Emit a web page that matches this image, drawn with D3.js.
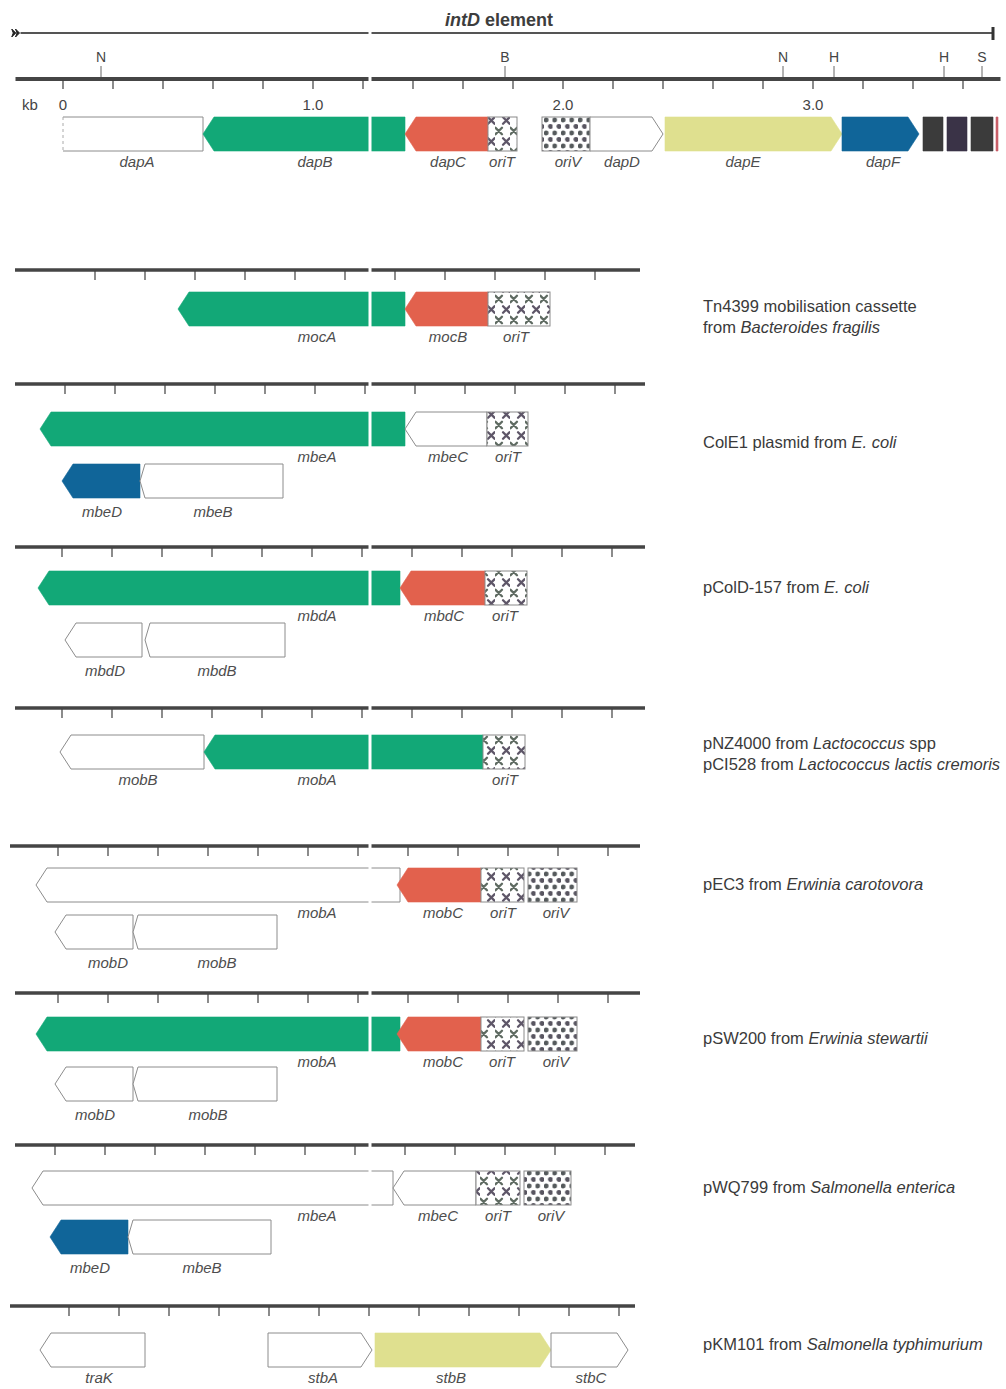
<!DOCTYPE html>
<html><head><meta charset="utf-8">
<script src="https://cdn.jsdelivr.net/npm/d3@7"></script>
<style>
body{margin:0;background:#fff;}
svg{display:block;}
text{font-family:"Liberation Sans",Arial,sans-serif;}
</style>
</head><body>
<svg id="chart" width="1006" height="1389"></svg>
<script>
// ---------------- DATA (kb coordinates) ----------------
const trackIds = ["intD","Tn4399","ColE1","pColD-157","pNZ4000","pEC3","pSW200","pWQ799","pKM101"];
const trackDescriptions = [
  [],
  [[{t:"Tn4399 mobilisation cassette"}],[{t:"from "},{t:"Bacteroides fragilis",i:true}]],
  [[{t:"ColE1 plasmid from "},{t:"E. coli",i:true}]],
  [[{t:"pColD-157 from "},{t:"E. coli",i:true}]],
  [[{t:"pNZ4000 from "},{t:"Lactococcus",i:true},{t:" spp"}],[{t:"pCI528 from "},{t:"Lactococcus lactis cremoris",i:true}]],
  [[{t:"pEC3 from "},{t:"Erwinia carotovora",i:true}]],
  [[{t:"pSW200  from "},{t:"Erwinia stewartii",i:true}]],
  [[{t:"pWQ799  from "},{t:"Salmonella enterica",i:true}]],
  [[{t:"pKM101 from "},{t:"Salmonella typhimurium",i:true}]]
];
const rulerStartKb = [-0.19,-0.192,-0.192,-0.192,-0.192,-0.212,-0.192,-0.192,-0.212];
const rulerEndKb   = [3.75, 2.308, 2.328, 2.328, 2.328, 2.308, 2.308, 2.288, 2.288];
const tickStartKb  = [0, 0.128, 0.008, -0.004, -0.004, -0.02, -0.02, -0.032, 0.024];
const tickCount    = [19, 11, 12, 12, 12, 12, 12, 12, 12];
const tickStepKb = 0.2;
const axisTickLabels = ["0","1.0","2.0","3.0"];
const axisTickKb = [0,1,2,3];
const siteNames = ["N","B","N","H","H","S"];
const siteKb = [0.152,1.768,2.88,3.084,3.524,3.676];
const elementTitle = ["intD"," element"];
const breakKb = 1.228;

const genesIntD = [
  {name:"dapA",from:0,to:0.56,dir:0,fam:"none",open:"left",lab:0.296},
  {name:"dapB",from:0.56,to:1.368,dir:-1,fam:"dapB",lab:1.008},
  {name:"dapC",from:1.368,to:1.70,dir:-1,fam:"dapC",lab:1.54},
  {name:"oriT",from:1.70,to:1.816,kind:"oriT",lab:1.756},
  {name:"oriV",from:1.916,to:2.108,kind:"oriV",lab:2.02},
  {name:"dapD",from:2.108,to:2.40,dir:1,fam:"none",lab:2.236},
  {name:"dapE",from:2.408,to:3.116,dir:1,fam:"dapE",lab:2.72},
  {name:"dapF",from:3.116,to:3.424,dir:1,fam:"dapF",lab:3.28},
  {name:"",from:3.44,to:3.52,dir:0,fam:"dark"},
  {name:"",from:3.536,to:3.616,dir:0,fam:"dark2"},
  {name:"",from:3.632,to:3.72,dir:0,fam:"dark"},
  {name:"",from:3.732,to:3.74,dir:0,fam:"redline"}
];
const genesTn4399 = [
  {name:"mocA",from:0.46,to:1.368,dir:-1,fam:"dapB",lab:1.016},
  {name:"mocB",from:1.368,to:1.70,dir:-1,fam:"dapC",lab:1.54},
  {name:"oriT",from:1.70,to:1.948,kind:"oriT",lab:1.812}
];
const genesColE1 = [
  {name:"mbeA",from:-0.092,to:1.368,dir:-1,fam:"dapB",lab:1.016},
  {name:"mbeC",from:1.368,to:1.696,dir:-1,fam:"none",lab:1.54},
  {name:"oriT",from:1.696,to:1.86,kind:"oriT",lab:1.78},
  {name:"mbeD",from:-0.004,to:0.308,dir:-1,fam:"dapF",row:1,lab:0.156},
  {name:"mbeB",from:0.308,to:0.88,dir:-1,fam:"none",row:1,short:true,lab:0.6}
];
const genesPColD = [
  {name:"mbdA",from:-0.1,to:1.348,dir:-1,fam:"dapB",lab:1.016},
  {name:"mbdC",from:1.348,to:1.688,dir:-1,fam:"dapC",lab:1.524},
  {name:"oriT",from:1.688,to:1.856,kind:"oriT",lab:1.768},
  {name:"mbdD",from:0.008,to:0.316,dir:-1,fam:"none",row:1,lab:0.168},
  {name:"mbdB",from:0.328,to:0.888,dir:-1,fam:"none",row:1,short:true,lab:0.616}
];
const genesPNZ4000 = [
  {name:"mobB",from:-0.012,to:0.564,dir:-1,fam:"none",lab:0.3},
  {name:"mobA",from:0.564,to:1.68,dir:-1,fam:"dapB",lab:1.016},
  {name:"oriT",from:1.68,to:1.848,kind:"oriT",lab:1.768}
];
const genesPEC3 = [
  {name:"mobA",from:-0.108,to:1.348,dir:-1,fam:"none",lab:1.016},
  {name:"mobC",from:1.336,to:1.672,dir:-1,fam:"dapC",lab:1.52},
  {name:"oriT",from:1.672,to:1.844,kind:"oriT",lab:1.76},
  {name:"oriV",from:1.86,to:2.056,kind:"oriV",lab:1.972},
  {name:"mobD",from:-0.032,to:0.28,dir:-1,fam:"none",row:1,lab:0.18},
  {name:"mobB",from:0.28,to:0.856,dir:-1,fam:"none",row:1,short:true,lab:0.616}
];
const genesPSW200 = [
  {name:"mobA",from:-0.108,to:1.348,dir:-1,fam:"dapB",lab:1.016},
  {name:"mobC",from:1.336,to:1.672,dir:-1,fam:"dapC",lab:1.52},
  {name:"oriT",from:1.672,to:1.844,kind:"oriT",lab:1.756},
  {name:"oriV",from:1.86,to:2.056,kind:"oriV",lab:1.972},
  {name:"mobD",from:-0.032,to:0.28,dir:-1,fam:"none",row:1,lab:0.128},
  {name:"mobB",from:0.28,to:0.856,dir:-1,fam:"none",row:1,short:true,lab:0.58}
];
const genesPWQ799 = [
  {name:"mbeA",from:-0.124,to:1.32,dir:-1,fam:"none",lab:1.016},
  {name:"mbeC",from:1.32,to:1.652,dir:-1,fam:"none",lab:1.5},
  {name:"oriT",from:1.652,to:1.828,kind:"oriT",lab:1.74},
  {name:"oriV",from:1.844,to:2.032,kind:"oriV",lab:1.952},
  {name:"mbeD",from:-0.052,to:0.26,dir:-1,fam:"dapF",row:1,lab:0.108},
  {name:"mbeB",from:0.26,to:0.832,dir:-1,fam:"none",row:1,short:true,lab:0.556}
];
const genesPKM101 = [
  {name:"traK",from:-0.092,to:0.328,dir:-1,fam:"none",lab:0.144},
  {name:"stbA",from:0.82,to:1.236,dir:1,fam:"none",lab:1.04},
  {name:"stbB",from:1.248,to:1.952,dir:1,fam:"dapE",lab:1.552},
  {name:"stbC",from:1.952,to:2.26,dir:1,fam:"none",lab:2.112}
];
const trackGenes = [genesIntD,genesTn4399,genesColE1,genesPColD,genesPNZ4000,genesPEC3,genesPSW200,genesPWQ799,genesPKM101];

// ---------------- LAYOUT / STYLE ----------------
const rulerY  = [79,270,384,547,708,846,993,1145,1306];
const row0Top = [117,292,412,571,735,868,1017,1171,1333];
const row1Top = [null,null,464,623,null,915,1067,1220,null];
const descY   = [[],[307,328],[443],[588],[744,765],[885],[1039],[1188],[1345]];
const breakTracks = [true,true,true,true,true,true,true,true,false];
const geneH = 34, headLen = 11, shortHead = 5;
const famFill = {none:"#ffffff",dapB:"#12a877",dapC:"#e2614d",dapF:"#106599",dapE:"#dfe08f",
                 dark:"#3b3b3b",dark2:"#3a3347",redline:"#c9606a"};

const x = d3.scaleLinear().domain([0,1]).range([63,313]);
const svg = d3.select("#chart");
const defs = svg.append("defs");

// oriT cross pattern
const pT = defs.append("pattern").attr("id","crossPat").attr("patternUnits","userSpaceOnUse")
  .attr("width",15).attr("height",21);
pT.append("rect").attr("width",15).attr("height",21).attr("fill","#fff");
[[3.75,5,"#5f6b62"],[11.25,15.5,"#5e5668"]].forEach(([cx,cy,c])=>{
  pT.append("path").attr("d",`M${cx-3.2},${cy-3.2}L${cx+3.2},${cy+3.2}M${cx+3.2},${cy-3.2}L${cx-3.2},${cy+3.2}`)
    .attr("stroke",c).attr("stroke-width",2.3).attr("stroke-linecap","round");
});
// oriV dot pattern
const pV = defs.append("pattern").attr("id","dotPat").attr("patternUnits","userSpaceOnUse")
  .attr("width",8.5).attr("height",13);
pV.append("rect").attr("width",8.5).attr("height",13).attr("fill","#fff");
pV.append("circle").attr("cx",2.2).attr("cy",3).attr("r",2.4).attr("fill","#555a5c");
pV.append("circle").attr("cx",6.45).attr("cy",9.5).attr("r",2.4).attr("fill","#585560");

function genePath(x0,x1,y,h,dir,head){
  if(dir===-1) return `M${x0},${y+h/2}L${x0+head},${y}L${x1},${y}L${x1},${y+h}L${x0+head},${y+h}Z`;
  if(dir===1) return `M${x0},${y}L${x1-head},${y}L${x1},${y+h/2}L${x1-head},${y+h}L${x0},${y+h}Z`;
  return `M${x0},${y}L${x1},${y}L${x1},${y+h}L${x0},${y+h}Z`;
}

// ---------------- TITLE + intD element line ----------------
const title = svg.append("text").attr("x",499).attr("y",26).attr("text-anchor","middle")
  .attr("font-size",18).attr("font-weight","bold").attr("fill","#3d3d3d");
title.append("tspan").attr("font-style","italic").text(elementTitle[0]);
title.append("tspan").text(elementTitle[1]);

const topLineY = 33;
svg.append("line").attr("x1",x(-0.17)).attr("x2",x(3.72)).attr("y1",topLineY).attr("y2",topLineY)
  .attr("stroke","#555").attr("stroke-width",2);
// left end chevrons
[-0.205,-0.19].forEach(k=>{
  const cx = x(k);
  svg.append("path").attr("d",`M${cx},${topLineY-4}L${cx+4},${topLineY}L${cx},${topLineY+4}L${cx+1.5},${topLineY}Z`)
    .attr("fill","#222").attr("stroke","#222").attr("stroke-width",1);
});
// right end bar
svg.append("line").attr("x1",x(3.72)).attr("x2",x(3.72)).attr("y1",topLineY-6).attr("y2",topLineY+7)
  .attr("stroke","#333").attr("stroke-width",3);

// restriction sites
const sites = svg.append("g");
siteKb.forEach((k,i)=>{
  sites.append("line").attr("x1",x(k)).attr("x2",x(k)).attr("y1",66).attr("y2",rulerY[0]-2)
    .attr("stroke","#666").attr("stroke-width",1);
  sites.append("text").attr("x",x(k)).attr("y",62).attr("text-anchor","middle")
    .attr("font-size",14).attr("fill","#444").text(siteNames[i]);
});

// kb axis labels
svg.append("text").attr("x",30).attr("y",110).attr("text-anchor","middle").attr("font-size",15)
  .attr("fill","#444").text("kb");
axisTickKb.forEach((k,i)=>{
  svg.append("text").attr("x",x(k)).attr("y",110).attr("text-anchor","middle").attr("font-size",15)
    .attr("fill","#444").text(axisTickLabels[i]);
});

// ---------------- TRACKS ----------------
trackIds.forEach((id,t)=>{
  const g = svg.append("g").attr("class","track").attr("data-id",id);
  const ry = rulerY[t];
  // ruler
  g.append("line").attr("x1",x(rulerStartKb[t])).attr("x2",x(rulerEndKb[t]))
    .attr("y1",ry).attr("y2",ry).attr("stroke","#454545").attr("stroke-width",t===0?4:3.5);
  const ticks = d3.range(tickCount[t]).map(i=>tickStartKb[t]+i*tickStepKb);
  g.selectAll("line.tick").data(ticks).join("line").attr("class","tick")
    .attr("x1",d=>x(d)).attr("x2",d=>x(d)).attr("y1",ry+1).attr("y2",ry+10)
    .attr("stroke","#3f3f3f").attr("stroke-width",1.2);

  // genes
  const genes = trackGenes[t];
  genes.forEach(gn=>{
    const row = gn.row||0;
    const top = row===0 ? row0Top[t] : row1Top[t];
    const x0 = x(gn.from), x1 = x(gn.to);
    if(gn.kind==="oriT"||gn.kind==="oriV"){
      g.append("rect").attr("x",x0).attr("y",top).attr("width",x1-x0).attr("height",geneH)
        .attr("fill",gn.kind==="oriT"?"url(#crossPat)":"url(#dotPat)")
        .attr("stroke","#8a8a8a").attr("stroke-width",1);
    } else {
      const fill = famFill[gn.fam];
      const white = gn.fam==="none";
      const p = g.append("path").attr("d",genePath(x0,x1,top,geneH,gn.dir,gn.short?shortHead:headLen))
        .attr("fill",fill).attr("stroke",white?"#8c8c8c":fill).attr("stroke-width",white?1:0.6);
      if(gn.open==="left"){
        p.attr("d",`M${x0},${top}L${x1},${top}L${x1},${top+geneH}L${x0},${top+geneH}`).attr("fill","#fff");
        g.append("rect").attr("x",x0).attr("y",top).attr("width",x1-x0).attr("height",geneH)
          .attr("fill","#fff").lower();
        g.append("line").attr("x1",x0).attr("x2",x0).attr("y1",top).attr("y2",top+geneH)
          .attr("stroke","#aaa").attr("stroke-dasharray","3,3");
      }
    }
    if(gn.name){
      const ly = top+geneH+(row===0?16:19);
      g.append("text").attr("x",x(gn.lab!=null?gn.lab:(gn.from+gn.to)/2)).attr("y",ly)
        .attr("text-anchor","middle").attr("font-size",15).attr("font-style","italic")
        .attr("fill","#4d4d4d").text(gn.name);
    }
  });

  // scan break through the figure
  if(breakTracks[t]){
    g.append("rect").attr("x",x(breakKb)-1.5).attr("y",ry-4).attr("width",3)
      .attr("height",row0Top[t]+geneH+1-(ry-4)).attr("fill","#fff");
    if(t===0){
      svg.append("rect").attr("x",x(breakKb)-1.5).attr("y",topLineY-3).attr("width",3).attr("height",6).attr("fill","#fff");
    }
  }

  // description
  trackDescriptions[t].forEach((line,li)=>{
    const tx = g.append("text").attr("x",703).attr("y",descY[t][li]+5).attr("font-size",16.5).attr("fill","#3a3a3a");
    line.forEach(seg=>{
      tx.append("tspan").attr("font-style",seg.i?"italic":"normal").text(seg.t);
    });
  });
});
</script>
</body></html>
